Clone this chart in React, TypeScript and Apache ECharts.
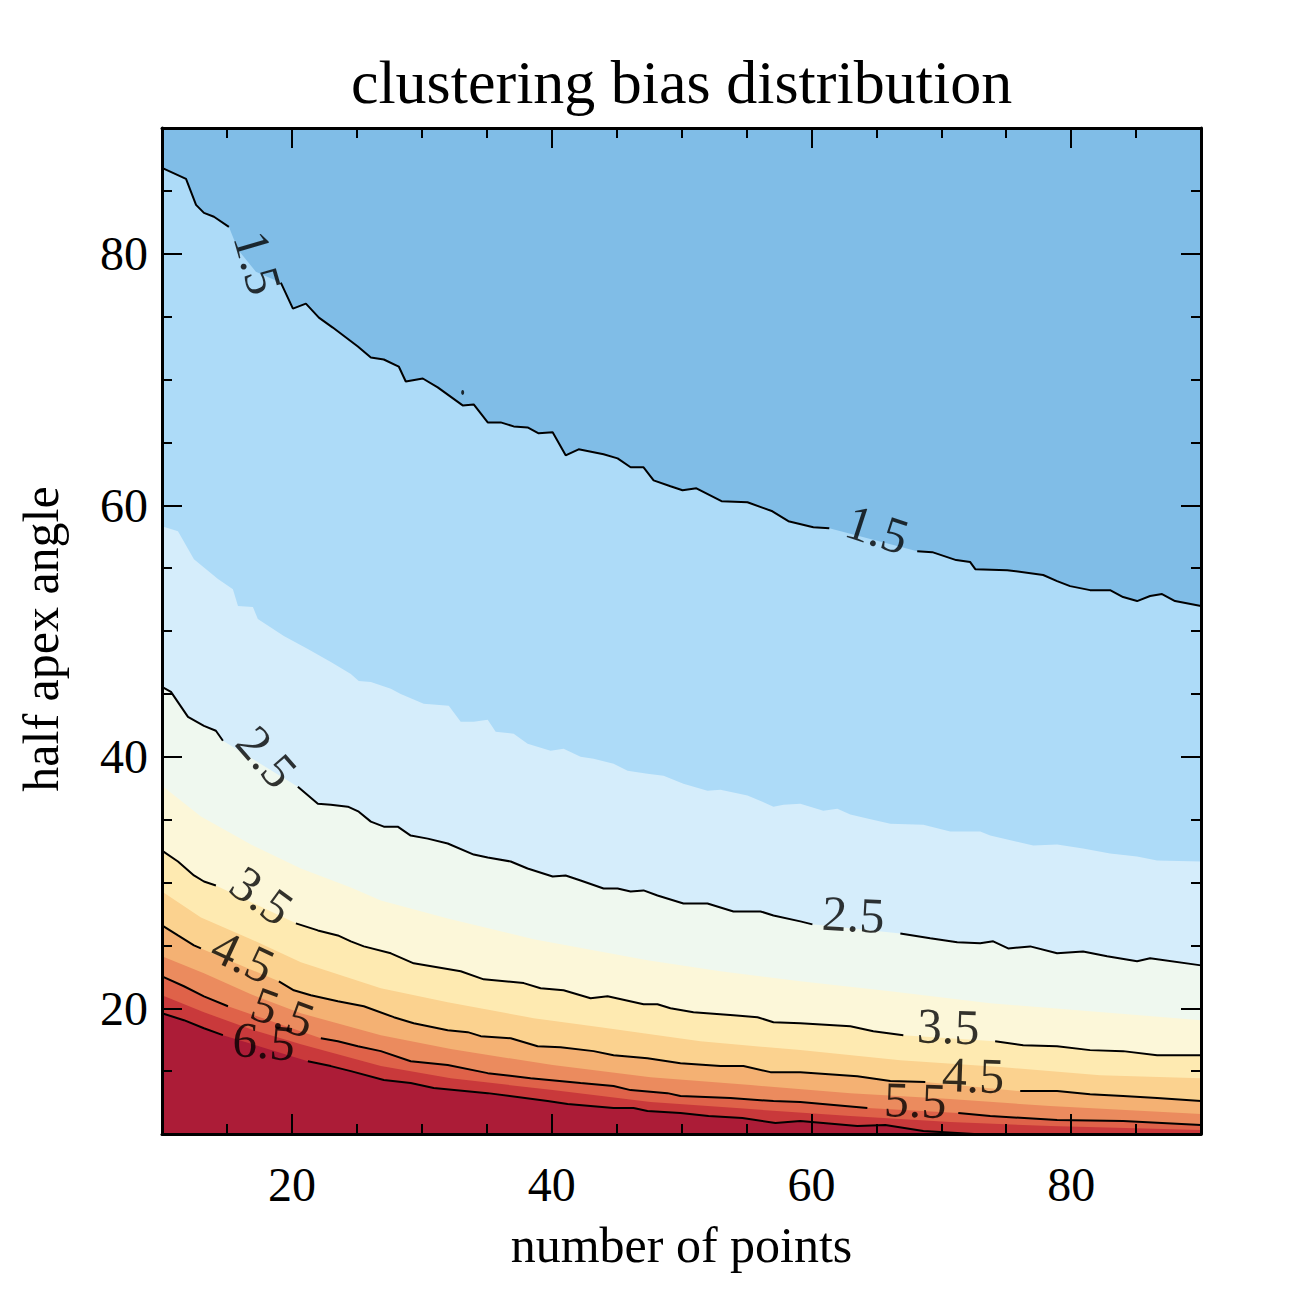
import React, { useEffect, useRef } from "react";
import * as echarts from "echarts";

// Plot domain
const X_MIN = 10;
const X_MAX = 90;
const Y_MIN = 10;
const Y_MAX = 90;
const majorTicks = [20, 40, 60, 80];

// Contour levels and the fill colour of each band (lowest band first, > 6.5 last)
const levels = [1.5, 2.0, 2.5, 3.0, 3.5, 4.0, 4.5, 5.0, 5.5, 6.0, 6.5];
const bandColors = [
  "#80bde7", "#addbf8", "#d5edfb", "#eff8ef", "#fcf7d9", "#feeab1",
  "#fbd28f", "#f4b173", "#eb8b5e", "#df6249", "#c9393b", "#ac1c37",
];
// Levels that are drawn as black contour lines (the others are band edges only)
const lineLevels = [1.5, 2.5, 3.5, 4.5, 5.5, 6.5];

// Contour paths: [number of points, half apex angle]
const contour15 = [
  [10.0, 86.83], [11.85, 85.95], [12.62, 83.89], [13.23, 83.25], [14.0, 82.94], [15.15, 82.14],
  [15.85, 80.32], [17.23, 78.57], [19.15, 77.7], [20.08, 75.64], [21.08, 76.03], [22.08, 74.92],
  [23.15, 74.13], [25.08, 72.62], [26.08, 71.75], [27.08, 71.59], [28.23, 71.03], [28.77, 69.84],
  [30.08, 70.08], [31.23, 69.37], [33.15, 67.94], [34.0, 68.02], [35.08, 66.59], [36.08, 66.59],
  [37.08, 66.27], [38.15, 66.19], [39.0, 65.72], [40.08, 65.8], [41.08, 63.97], [42.08, 64.45],
  [44.0, 64.05], [45.08, 63.73], [46.08, 63.02], [47.08, 63.02], [47.85, 61.98], [49.15, 61.51],
  [50.08, 61.19], [51.15, 61.35], [53.08, 60.32], [55.08, 60.24], [57.0, 59.52], [58.23, 58.73],
  [60.15, 58.25], [61.38, 58.17], [68.15, 56.35], [69.31, 56.27], [71.15, 55.64], [72.23, 55.48],
  [72.62, 54.92], [75.08, 54.84], [77.85, 54.45], [78.92, 53.97], [79.92, 53.57], [81.46, 53.25],
  [83.0, 53.25], [84.0, 52.7], [85.08, 52.38], [86.08, 52.78], [87.0, 52.94], [88.0, 52.38],
  [90.0, 51.99],
];
// A tiny isolated 1.5 contour ring above the main line
const island15 = [[33.15, 68.97]];
const contour20 = [
  [10.0, 58.33], [11.23, 57.94], [12.46, 55.71], [14.31, 54.13], [15.46, 53.33], [15.85, 51.99],
  [17.0, 51.91], [17.38, 50.95], [19.38, 49.6], [21.23, 48.57], [23.0, 47.54], [24.54, 46.59],
  [25.15, 46.03], [26.08, 45.95], [27.62, 45.4], [28.38, 45.0], [30.15, 44.21], [32.08, 44.05],
  [33.0, 42.78], [34.0, 42.78], [35.08, 42.94], [35.69, 41.99], [37.08, 41.83], [38.15, 41.03],
  [39.92, 40.48], [40.92, 40.64], [42.23, 40.0], [43.23, 39.84], [44.77, 39.45], [45.85, 38.89],
  [47.38, 38.65], [48.62, 38.49], [50.15, 37.86], [52.0, 37.3], [53.0, 37.38], [55.08, 36.91],
  [56.23, 36.43], [57.08, 36.03], [57.85, 36.19], [59.15, 36.27], [60.92, 35.71], [62.0, 35.87],
  [63.0, 35.4], [64.31, 35.08], [66.08, 34.68], [68.62, 34.6], [70.69, 34.05], [73.0, 34.05],
  [73.77, 33.73], [77.08, 32.94], [78.92, 33.02], [80.92, 32.7], [83.0, 32.3], [85.08, 32.06],
  [86.62, 31.75], [90.0, 31.67],
];
const contour25 = [
  [10.0, 45.56], [10.69, 45.16], [12.0, 43.17], [13.23, 42.46], [14.15, 42.07], [14.69, 41.27],
  [20.46, 37.62], [22.0, 36.27], [23.0, 36.19], [24.31, 36.03], [25.15, 35.63], [26.08, 34.84],
  [27.08, 34.44], [28.15, 34.44], [29.15, 33.73], [30.46, 33.49], [32.0, 33.1], [34.0, 32.22],
  [35.08, 31.98], [36.85, 31.67], [38.15, 31.11], [40.08, 30.48], [41.08, 30.56], [42.23, 30.16],
  [44.0, 29.52], [45.08, 29.52], [46.08, 29.29], [47.08, 29.37], [48.15, 28.97], [50.15, 28.33],
  [52.0, 28.33], [54.0, 27.7], [56.08, 27.7], [57.08, 27.38], [59.15, 26.91], [60.08, 26.67],
  [66.85, 25.95], [69.15, 25.56], [71.23, 25.24], [73.0, 25.16], [74.0, 25.32], [75.15, 24.76],
  [76.85, 24.92], [78.92, 24.37], [80.92, 24.52], [82.77, 24.13], [85.08, 23.73], [86.08, 23.97],
  [90.0, 23.41],
];
const contour30 = [
  [10.0, 37.7], [13.0, 35.24], [16.85, 33.02], [20.69, 31.11], [24.54, 29.6], [26.85, 28.57],
  [32.0, 27.14], [38.62, 25.48], [47.38, 23.81], [53.0, 22.94], [59.15, 22.14], [66.08, 21.35],
  [73.77, 20.4], [81.46, 19.76], [90.0, 19.05],
];
const contour35 = [
  [10.0, 32.54], [11.23, 31.67], [12.46, 30.56], [13.23, 30.08], [14.15, 29.76], [20.31, 26.75],
  [22.0, 26.19], [23.54, 25.79], [24.54, 25.32], [25.54, 24.92], [27.62, 24.37], [29.38, 23.57],
  [33.0, 22.94], [34.77, 22.3], [37.85, 22.0], [39.15, 21.59], [40.92, 21.43], [43.0, 20.8],
  [44.31, 20.95], [47.08, 20.32], [48.15, 20.32], [49.15, 20.0], [50.92, 19.68], [54.0, 19.44],
  [55.85, 19.29], [57.08, 18.89], [59.15, 18.81], [63.0, 18.57], [64.77, 18.17], [67.08, 17.86],
  [74.15, 17.38], [76.31, 17.06], [78.92, 16.98], [81.46, 16.67], [84.0, 16.59], [86.62, 16.27],
  [90.0, 16.27],
];
const contour40 = [
  [10.0, 29.29], [13.0, 27.22], [16.85, 25.49], [20.69, 23.65], [26.85, 21.59], [32.0, 20.48],
  [38.62, 19.21], [43.77, 18.49], [51.46, 17.38], [59.15, 16.67], [66.85, 15.87], [74.54, 15.32],
  [82.23, 14.68], [90.0, 14.44],
];
const contour45 = [
  [10.0, 26.59], [11.23, 25.79], [12.46, 25.0], [13.0, 24.76], [19.0, 22.14], [20.15, 21.43],
  [21.46, 21.03], [23.54, 20.56], [25.54, 20.16], [27.85, 19.29], [29.38, 18.81], [32.0, 18.25],
  [33.54, 18.1], [34.54, 17.78], [36.85, 17.62], [38.92, 16.98], [40.69, 16.9], [43.23, 16.59],
  [44.77, 16.27], [47.38, 16.03], [49.92, 15.63], [53.0, 15.4], [54.77, 15.4], [56.85, 14.92],
  [59.15, 14.92], [63.54, 14.6], [66.08, 14.21], [68.77, 14.13], [76.08, 13.41], [78.92, 13.41],
  [81.46, 13.17], [84.0, 13.02], [86.62, 12.86], [90.0, 12.62],
];
const contour50 = [
  [10.0, 24.13], [13.23, 22.78], [16.85, 21.11], [20.69, 19.6], [26.85, 17.86], [32.23, 16.75],
  [40.08, 15.48], [47.62, 14.52], [55.31, 13.89], [63.0, 13.25], [70.69, 12.78], [78.38, 12.22],
  [90.0, 11.59],
];
const contour55 = [
  [10.0, 22.54], [11.69, 21.75], [13.23, 20.95], [15.08, 20.16], [22.23, 17.62], [23.54, 17.38],
  [25.08, 16.98], [26.85, 16.59], [29.15, 15.79], [32.0, 15.48], [35.08, 14.84], [38.38, 14.44],
  [42.23, 14.05], [44.77, 13.81], [46.08, 13.49], [48.92, 13.25], [49.92, 13.02], [53.77, 12.86],
  [57.08, 12.62], [59.15, 12.54], [64.31, 12.06], [71.31, 11.67], [73.77, 11.43], [78.92, 11.11],
  [84.0, 11.03], [90.0, 10.71],
];
const contour60 = [
  [10.0, 21.03], [13.23, 19.68], [16.85, 18.33], [20.69, 17.14], [26.85, 15.4], [32.23, 14.44],
  [40.08, 13.49], [47.62, 12.54], [55.31, 11.98], [63.0, 11.43], [70.69, 10.95], [78.38, 10.63],
  [90.0, 10.32],
];
const contour65 = [
  [10.0, 19.6], [11.69, 19.05], [13.23, 18.41], [14.69, 17.86], [21.23, 15.79], [23.0, 15.4],
  [24.54, 15.0], [27.08, 14.29], [29.15, 14.05], [30.92, 13.65], [35.08, 13.25], [39.69, 12.62],
  [41.23, 12.38], [44.77, 12.06], [46.31, 12.06], [47.38, 11.83], [49.92, 11.67], [52.08, 11.43],
  [54.69, 11.27], [57.23, 10.87], [59.15, 11.03], [63.54, 10.63], [65.69, 10.71], [68.62, 10.24],
  [72.54, 10.0],
];
const contours = [
  contour15, contour20, contour25, contour30, contour35, contour40,
  contour45, contour50, contour55, contour60, contour65,
];

// Inline contour labels: level, anchor, text angle and the stretch of line left open for it
const labelLevels = [1.5, 1.5, 2.5, 2.5, 3.5, 3.5, 4.5, 4.5, 5.5, 5.5, 6.5];
const labelX = [17.38, 65.08, 18.08, 63.23, 17.69, 70.54, 16.23, 72.46, 19.31, 68.0, 17.85];
const labelY = [79.29, 58.1, 40.0, 27.46, 28.97, 18.57, 24.13, 14.68, 19.68, 12.7, 17.38];
const labelAngle = [-74, -18, -49, -3, -36, -2, -25, -2, -20, -2, -5];
const gapFrom = [15.15, 61.38, 14.69, 60.08, 14.15, 67.08, 13.0, 68.77, 15.08, 64.31, 14.69];
const gapTo = [19.15, 68.15, 20.46, 66.85, 20.31, 74.15, 19.0, 76.08, 22.23, 71.31, 21.23];

const SERIF = "Liberation Serif";
const GRID = { left: 162, right: 97, top: 128, bottom: 164 };

// Band edge used for filling: a contour that leaves through the bottom edge
// continues along that edge to the right side of the plot.
function fillPath(points: number[][]) {
  const out = points.map((p) => [p[0], p[1]]);
  const last = out[out.length - 1];
  if (last[0] < X_MAX && last[1] <= Y_MIN) out.push([X_MAX, Y_MIN]);
  return out;
}

// Contour line with openings where its labels sit
function linePath(level: number, points: number[][]) {
  const gaps = labelLevels
    .map((lv, i) => (lv === level ? [gapFrom[i], gapTo[i]] : null))
    .filter((g) => g !== null) as number[][];
  const out: any[] = [];
  const opened = new Set<number>();
  points.forEach((p) => {
    const gi = gaps.findIndex((g) => p[0] > g[0] + 1e-6 && p[0] < g[1] - 1e-6);
    if (gi >= 0) return;
    const crossed = gaps.findIndex(
      (g, k) => !opened.has(k) && out.length > 0 && p[0] >= g[1] - 1e-6 && out[out.length - 1][0] <= g[0] + 1e-6
    );
    if (crossed >= 0) {
      opened.add(crossed);
      out.push([(gaps[crossed][0] + gaps[crossed][1]) / 2, "-"]);
    }
    out.push([p[0], p[1]]);
  });
  return out;
}

function buildOption() {
  const black = "#000";
  const frameLine = { show: true, onZero: false, lineStyle: { color: black, width: 3 } };
  const tickStyle = { color: black, width: 2 };

  const minorAxis = (position: string, min: number, max: number) => ({
    type: "value",
    position,
    min,
    max,
    interval: 5,
    z: 10,
    axisLine: frameLine,
    axisTick: { show: true, inside: true, length: 10, lineStyle: tickStyle },
    axisLabel: { show: false },
    splitLine: { show: false },
  });
  const majorAxis = (position: string, min: number, max: number, labels: boolean) => ({
    type: "value",
    position,
    min,
    max,
    z: 11,
    axisLine: { show: false, onZero: false },
    axisTick: { show: true, inside: true, length: 20, customValues: majorTicks, lineStyle: tickStyle },
    axisLabel: {
      show: labels,
      customValues: majorTicks,
      fontFamily: SERIF,
      fontSize: 48,
      color: black,
      margin: position === "bottom" ? 26 : 14,
    },
    splitLine: { show: false },
  });

  const nameStyle = { fontFamily: SERIF, fontSize: 50, color: black };
  const xAxis = [
    { ...minorAxis("bottom", X_MIN, X_MAX),
      name: "number of points", nameLocation: "middle", nameGap: 86, nameTextStyle: nameStyle },
    majorAxis("bottom", X_MIN, X_MAX, true),
    minorAxis("top", X_MIN, X_MAX),
    majorAxis("top", X_MIN, X_MAX, false),
  ];
  const yAxis = [
    { ...minorAxis("left", Y_MIN, Y_MAX),
      name: "half apex angle", nameLocation: "middle", nameGap: 96,
      nameTextStyle: { ...nameStyle, padding: [0, 16, 0, 0] } },
    majorAxis("left", Y_MIN, Y_MAX, true),
    minorAxis("right", Y_MIN, Y_MAX),
    majorAxis("right", Y_MIN, Y_MAX, false),
  ];

  // Filled bands: paint from the highest level down, each filling toward the top
  const fillSeries = levels
    .map((lv, i) => ({
      type: "line",
      name: "band " + lv,
      xAxisIndex: 0,
      yAxisIndex: 0,
      data: fillPath(contours[i]),
      showSymbol: false,
      symbol: "none",
      silent: true,
      z: 2,
      lineStyle: { width: 0, opacity: 0 },
      areaStyle: { color: bandColors[i], opacity: 1, origin: "end" },
    }))
    .reverse();

  const lineSeries = lineLevels.map((lv) => ({
    type: "line",
    name: "contour " + lv,
    xAxisIndex: 0,
    yAxisIndex: 0,
    data: linePath(lv, contours[levels.indexOf(lv)]),
    showSymbol: false,
    symbol: "none",
    silent: true,
    connectNulls: false,
    z: 4,
    lineStyle: { color: black, width: 2 },
  }));

  const islandSeries = {
    type: "scatter",
    name: "contour 1.5 ring",
    xAxisIndex: 0,
    yAxisIndex: 0,
    symbol: "circle",
    symbolSize: [3, 5],
    silent: true,
    z: 4,
    itemStyle: { color: black },
    data: island15,
  };

  const labelSeries = {
    type: "scatter",
    xAxisIndex: 0,
    yAxisIndex: 0,
    symbolSize: 0,
    silent: true,
    z: 5,
    itemStyle: { color: "rgba(0,0,0,0)" },
    data: labelX.map((x, i) => ({
      value: [x, labelY[i]],
      label: { rotate: labelAngle[i] },
    })),
    label: {
      show: true,
      position: "inside",
      formatter: (p: any) => labelLevels[p.dataIndex].toFixed(1),
      fontFamily: SERIF,
      fontSize: 50,
      color: black,
      textBorderWidth: 0,
      textBorderColor: "transparent",
    },
  };

  const plotWidth = 1298 - GRID.left - GRID.right;

  return {
    animation: false,
    backgroundColor: "#fff",
    grid: { ...GRID, show: true, backgroundColor: bandColors[bandColors.length - 1], borderWidth: 0 },
    xAxis,
    yAxis,
    graphic: [
      {
        type: "text",
        x: GRID.left + plotWidth / 2,
        y: 51,
        style: {
          text: "clustering bias distribution",
          fontFamily: SERIF,
          fontSize: 62,
          fill: black,
          align: "center",
          verticalAlign: "top",
        },
      },
    ],
    series: [...fillSeries, ...lineSeries, islandSeries, labelSeries],
  };
}

export default function App() {
  const ref = useRef<HTMLDivElement>(null);
  useEffect(() => {
    if (!ref.current) return;
    const chart = echarts.init(ref.current, undefined, { renderer: "svg" });
    chart.setOption(buildOption() as any);
    return () => chart.dispose();
  }, []);
  return (
    <div
      ref={ref}
      style={{ position: "fixed", left: 0, top: 0, width: 1298, height: 1298, background: "#fff" }}
    />
  );
}
